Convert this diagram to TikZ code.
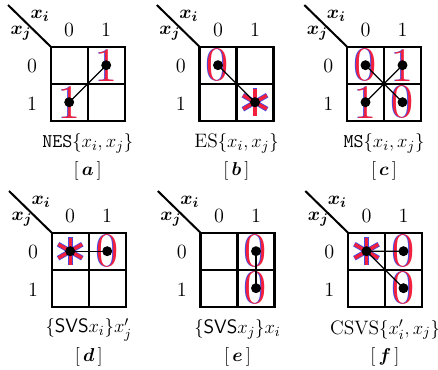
\documentclass[tikz,border=0pt]{standalone}
\usepackage{amsmath,amssymb,bm}
\usetikzlibrary{calc}
\definecolor{kred}{HTML}{F2203C}
\definecolor{kblue}{HTML}{4848E0}
\tikzset{
  kgrid/.style={line width=1.3pt},
  klink/.style={line width=0.8pt},
  kdot/.style={fill=black},
  klab/.style={font=\fontsize{13}{15}\selectfont, inner sep=1pt},
  kcap/.style={font=\fontsize{12.5}{15}\selectfont, inner sep=1pt},
  bigdig/.style={font=\fontsize{31}{31}\selectfont, inner sep=0pt},
}
% frame of one map: name, x, y, caption, tag
\newcommand{\kmap}[5]{%
  \begin{scope}[shift={(#2,#3)}]
    \draw[kgrid] (0,0) rectangle (74,74) (37,0) -- (37,74) (0,37) -- (74,37);
    \draw[kgrid] (-42.7,-41.7) -- (0,0);
    \node[klab] (#1-xi) at (-10.7,-30.7) {$\bm{x_i}$};
    \node[klab] (#1-xj) at (-29.7,-13.7) {$\bm{x_j}$};
    \node[klab] (#1-c0) at (18.5,-16.7) {0};
    \node[klab] (#1-c1) at (55.5,-16.7) {1};
    \node[klab] (#1-r0) at (-18.7,19.5) {0};
    \node[klab] (#1-r1) at (-18.7,57) {1};
    \node[kcap] (#1-cap) at (37,97) {#4};
    \node[kcap] (#1-tag) at (37,124) {$[\,\bm{#5}\,]$};
    \coordinate (#1-00) at (18.5,18.5);
    \coordinate (#1-01) at (55.5,18.5);
    \coordinate (#1-10) at (18.5,55.5);
    \coordinate (#1-11) at (55.5,55.5);
  \end{scope}}
% big two-tone digit in a cell
\newcommand{\kdig}[2]{%
  \node[bigdig, text=kblue] at ([xshift=-0.7pt]#1) {#2};
  \node[bigdig, text=kred] at (#1) {#2};}
% six-armed star in a cell
\newcommand{\kstar}[1]{%
  \foreach \a in {30,90,150}
    \draw[kblue, line width=3.2pt] ($(#1)+(\a:14)$) -- ($(#1)-(\a:14)$);
  \foreach \a in {30,90,150}
    \draw[kred, line width=2.1pt] ($(#1)+(\a:13.6)$) -- ($(#1)-(\a:13.6)$);}
\newcommand{\kdot}[1]{\fill[kdot] (#1) circle[radius=3.2pt];}

\begin{document}
\begin{tikzpicture}[x=0.0226cm, y=-0.0226cm]
  \useasboundingbox (0,0) rectangle (438,370);

  % upper row
  \kmap{a}{50.7}{46.7}{\texttt{NES}$\{x_i,x_j\}$}{a}
  \kmap{b}{199.5}{46.7}{ES$\{x_i,x_j\}$}{b}
  \kmap{c}{347}{46.7}{\texttt{MS}$\{x_i,x_j\}$}{c}
  % lower row
  \kmap{d}{51.7}{232.7}{$\{$\textsf{SVS}$x_i\}x'_j$}{d}
  \kmap{e}{200.5}{232.7}{$\{$\textsf{SVS}$x_j\}x_i$}{e}
  \kmap{f}{348}{232.7}{CSVS$\{x'_i,x_j\}$}{f}

  % [a]
  \kdig{a-01}{1} \kdig{a-10}{1}
  \draw[klink] (a-01) -- (a-10);
  \kdot{a-01} \kdot{a-10}
  % [b]
  \kdig{b-00}{0} \kstar{b-11}
  \draw[klink] (b-00) -- (b-11);
  \kdot{b-00} \kdot{b-11}
  % [c]
  \kdig{c-00}{0} \kdig{c-01}{1} \kdig{c-10}{1} \kdig{c-11}{0}
  \draw[klink] (c-00) -- (c-11) (c-01) -- (c-10);
  \kdot{c-00} \kdot{c-01} \kdot{c-10} \kdot{c-11}
  % [d]
  \kstar{d-00} \kdig{d-01}{0}
  \draw[klink] (d-00) -- (d-01);
  \kdot{d-00} \kdot{d-01}
  % [e]
  \kdig{e-01}{0} \kdig{e-11}{0}
  \draw[klink] (e-01) -- (e-11);
  \kdot{e-01} \kdot{e-11}
  % [f]
  \kstar{f-00} \kdig{f-01}{0} \kdig{f-11}{0}
  \draw[klink] (f-00) -- (f-01) (f-00) -- (f-11);
  \kdot{f-00} \kdot{f-01} \kdot{f-11}
\end{tikzpicture}
\end{document}
